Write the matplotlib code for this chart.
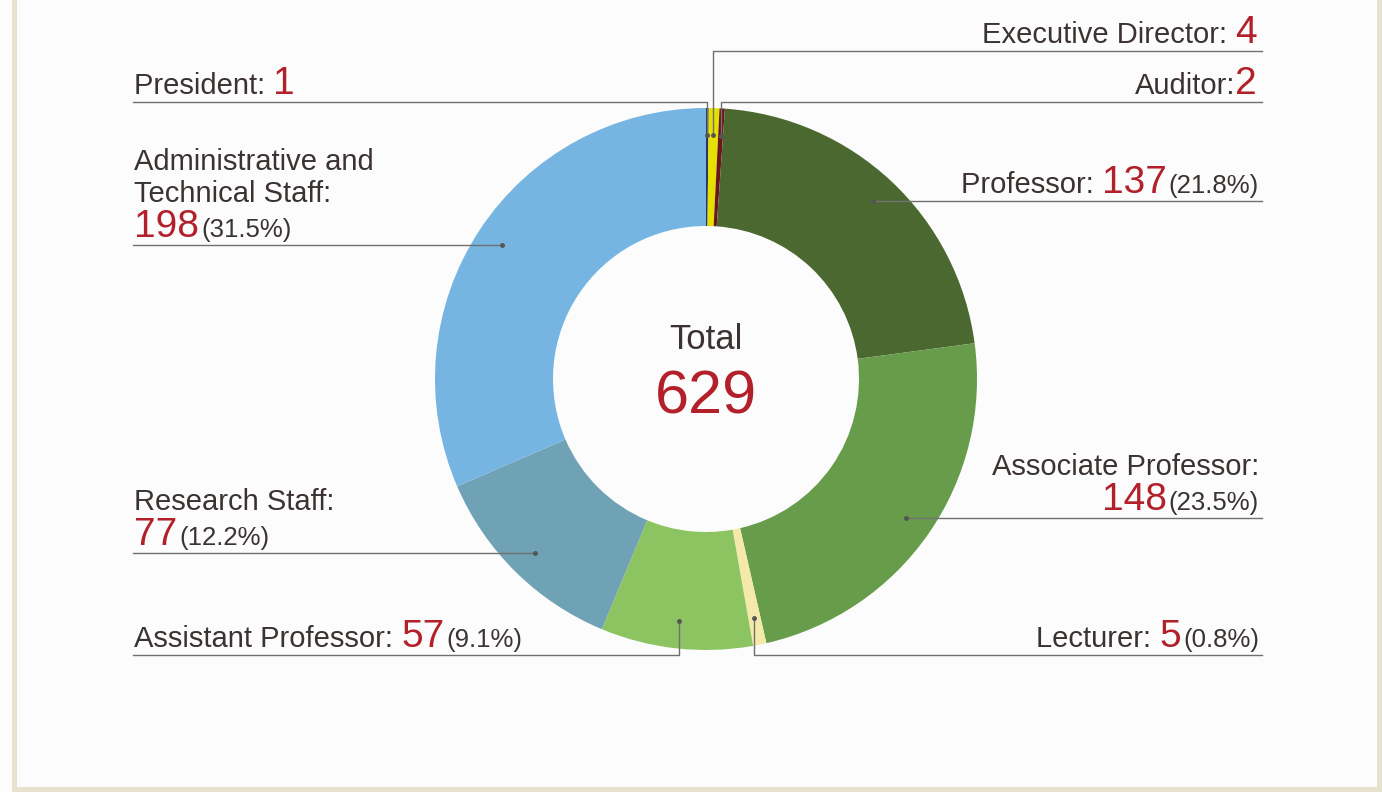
import matplotlib
matplotlib.use("Agg")
import matplotlib.pyplot as plt
import numpy as np
from matplotlib.patches import Rectangle

plt.rcParams['font.family'] = ['Liberation Sans', 'DejaVu Sans']

# staff counts, clockwise from the top
names = ["President", "Executive Director", "Auditor", "Professor",
         "Associate Professor", "Lecturer", "Assistant Professor",
         "Research Staff", "Administrative and\nTechnical Staff"]
counts = [1, 4, 2, 137, 148, 5, 57, 77, 198]
show_pct = [False, False, False, True, True, True, True, True, True]
colors = ["#2d3560", "#e4e000", "#6e1519", "#4a6830", "#679c4b",
          "#f5e9a9", "#8dc462", "#6fa2b4", "#76b5e2"]

TXT = "#3a3331"
RED = "#b3202a"
LINE = "#707070"
W, H = 1382, 792


def Y(py):
    return H - py


fig = plt.figure(figsize=(W / 100, H / 100), dpi=100, facecolor="#fcfcfc")
ax = fig.add_axes([0, 0, 1, 1])

cx, cy, R, ring = 706, Y(379), 271, 118
ax.pie(counts, colors=colors, startangle=90, counterclock=False,
       radius=R, center=(cx, cy), wedgeprops=dict(width=ring, linewidth=0))
ax.set_xlim(0, W)
ax.set_ylim(0, H)
ax.set_aspect("auto")
ax.axis("off")

# frame
for x0, y0, w, h in [(12, 0, 5, H), (W - 5, 0, 5, H), (12, 0, W - 12, 5)]:
    ax.add_patch(Rectangle((x0, y0), w, h, color="#e6e2cd", lw=0, zorder=0))

ax.text(cx, Y(349), "Total", fontsize=25, color=TXT, ha="center",
        va="baseline")
ax.text(cx, Y(413), str(sum(counts)), fontsize=44, color=RED, ha="center",
        va="baseline")

renderer = fig.canvas.get_renderer()


def put_line(parts, x, y, ha):
    # parts: (text, fontsize, color, pad after)
    arts = []
    for s, fs, c, pad in parts:
        t = ax.text(0, y, s, fontsize=fs, color=c, ha="left", va="baseline")
        wdt = t.get_window_extent(renderer).width
        arts.append((t, wdt, pad))
    total = sum(w + p for _, w, p in arts)
    pos = x if ha == "left" else x - total
    for t, wdt, pad in arts:
        t.set_x(pos)
        pos += wdt + pad


# layout: side, y of the horizontal rule (None = at the dot)
layout = [("left", 102), ("right", 51), ("right", 102), ("right", None),
          ("right", None), ("right", 655), ("left", 655), ("left", None),
          ("left", None)]

total = sum(counts)
start = 0.0
for i, n in enumerate(counts):
    mid = start + n / total * 180.0
    start += n / total * 360.0
    th = np.deg2rad(90 - mid)
    dx = cx + 0.9 * R * np.cos(th)
    dy = cy + 0.9 * R * np.sin(th)
    side, ly = layout[i]
    ly = dy if ly is None else Y(ly)
    xend = 133 if side == "left" else 1262
    ax.plot([dx, dx, xend], [dy, ly, ly], color=LINE, lw=1, zorder=3)
    ax.plot([dx], [dy], "o", ms=2.5, color="#555555", zorder=4)

    label = names[i] + ":"
    num_parts = [(str(n), 28, RED, 2)]
    if show_pct[i]:
        num_parts.append(("(%.1f%%)" % (100.0 * n / total), 18.5, TXT, 0))
    head = label.split("\n")
    tx = 134 if side == "left" else 1259
    base = ly + 8
    sep = " " if names[i] != "Auditor" else ""
    if i in (4, 7, 8):
        lines = [[(h, 21, TXT, 0)] for h in head] + [num_parts]
    else:
        lines = [[(head[0] + sep, 21, TXT, 0)] + num_parts]
    for k, parts in enumerate(reversed(lines)):
        put_line(parts, tx, base, side)
        base += 35 if k == 0 else 32

fig.savefig("out.png", dpi=100, facecolor=fig.get_facecolor())
